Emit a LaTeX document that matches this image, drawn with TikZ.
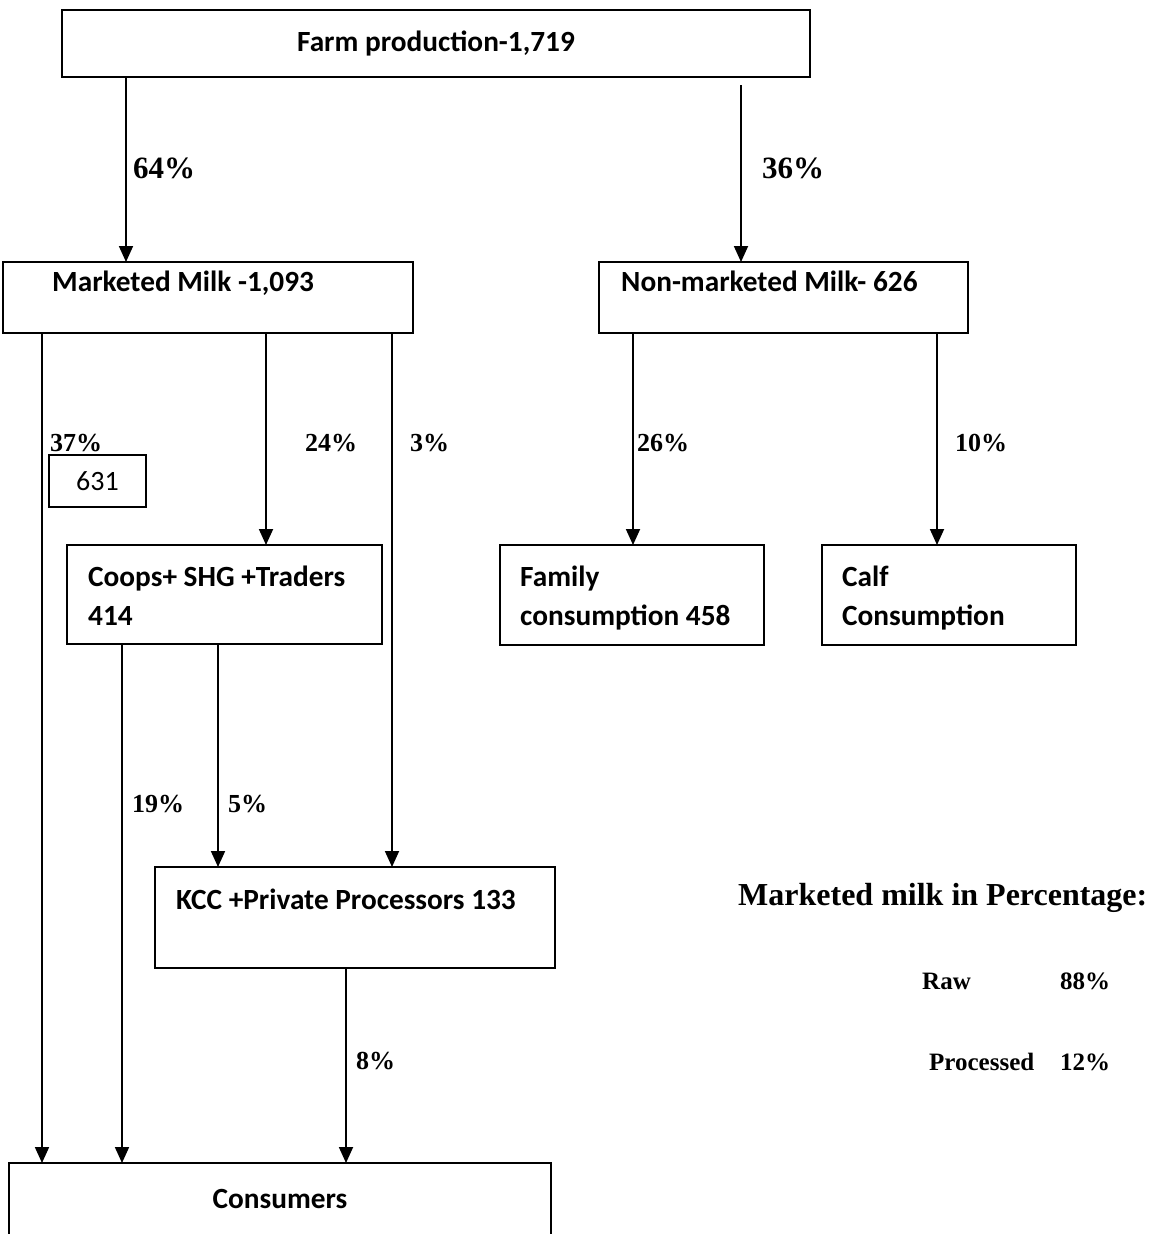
\documentclass[tikz,border=0pt]{standalone}
\usepackage{fontspec}
\usetikzlibrary{arrows.meta}
\newfontfamily\boxfont{Carlito}
\newfontfamily\labfont{Liberation Serif}
\begin{document}
\begin{tikzpicture}[x=1pt,y=-1pt,
  box/.style={draw,line width=1.8pt,inner sep=0pt,outer sep=0pt},
  bfont/.style={font=\boxfont\fontsize{29.3}{35}\selectfont\bfseries},
  btxt/.style={inner sep=0pt,anchor=base west,bfont},
  lab/.style={inner sep=0pt,anchor=base west,font=\labfont\fontsize{26}{30}\selectfont\bfseries},
  biglab/.style={inner sep=0pt,anchor=base west,font=\labfont\fontsize{31}{36}\selectfont\bfseries},
  leglab/.style={inner sep=0pt,anchor=base west,font=\labfont\fontsize{25}{30}\selectfont\bfseries},
  arr/.style={line width=1.8pt,-{Triangle[length=16pt,width=14pt]}}]
\useasboundingbox (0,0) rectangle (1151,1234);
% boxes
\node[box,minimum width=748pt,minimum height=67pt,bfont] (farm) at (436,43.5) {Farm production-1,719};
\node[box,minimum width=410pt,minimum height=71pt] (mkt) at (208,297.5) {};
\node[box,minimum width=369pt,minimum height=71pt] (nonmkt) at (783.5,297.5) {};
\node[box,minimum width=97pt,minimum height=52pt,font=\boxfont\fontsize{28}{34}\selectfont] (b631) at (97.5,481) {631};
\node[box,minimum width=315pt,minimum height=99pt] (coops) at (224.5,594.5) {};
\node[box,minimum width=264pt,minimum height=100pt] (family) at (632,595) {};
\node[box,minimum width=254pt,minimum height=100pt] (calf) at (949,595) {};
\node[box,minimum width=400pt,minimum height=101pt] (kcc) at (355,917.5) {};
\node[inner sep=0pt,outer sep=0pt,minimum width=542pt,minimum height=71pt,bfont] (cons) at (280,1198.5) {Consumers};
\draw[line width=1.8pt] (cons.south west) -- (cons.north west) -- (cons.north east) -- (cons.south east);
% box texts
\node[btxt] (tmkt) at (52,291) {Marketed Milk -1,093};
\node[btxt] (tnon) at (621,291) {Non-marketed Milk- 626};
\node[btxt] (tcoops1) at (88,586) {Coops+ SHG +Traders};
\node[btxt] (tcoops2) at (88,625) {414};
\node[btxt] (tfam1) at (520,586) {Family};
\node[btxt] (tfam2) at (520,625) {consumption 458};
\node[btxt] (tcalf1) at (842,586) {Calf};
\node[btxt] (tcalf2) at (842,625) {Consumption};
\node[btxt] (tkcc) at (176,909) {KCC +Private Processors 133};
% columns
\coordinate (c42) at (42,0);
\coordinate (c122) at (122,0);
\coordinate (c126) at (126,0);
\coordinate (c218) at (218,0);
\coordinate (c266) at (266,0);
\coordinate (c346) at (346,0);
\coordinate (c392) at (392,0);
\coordinate (c633) at (633,0);
\coordinate (c937) at (937,0);
\coordinate (nmtop) at (741,85);
% arrows
\draw[arr] (farm.south -| c126) -- (mkt.north -| c126);
\draw[arr] (nmtop) -- (nonmkt.north -| nmtop);
\draw[arr] (mkt.south -| c42) -- (cons.north -| c42);
\draw[arr] (mkt.south -| c266) -- (coops.north -| c266);
\draw[arr] (mkt.south -| c392) -- (kcc.north -| c392);
\draw[arr] (nonmkt.south -| c633) -- (family.north -| c633);
\draw[arr] (nonmkt.south -| c937) -- (calf.north -| c937);
\draw[arr] (coops.south -| c122) -- (cons.north -| c122);
\draw[arr] (coops.south -| c218) -- (kcc.north -| c218);
\draw[arr] (kcc.south -| c346) -- (cons.north -| c346);
% labels
\node[biglab] (l64) at (133,178) {64\%};
\node[biglab] (l36) at (762,178) {36\%};
\node[lab] (l37) at (50,451) {37\%};
\node[lab] (l24) at (305,451) {24\%};
\node[lab] (l3) at (410,451) {3\%};
\node[lab] (l26) at (637,451) {26\%};
\node[lab] (l10) at (955,451) {10\%};
\node[lab] (l19) at (132,812) {19\%};
\node[lab] (l5) at (228,812) {5\%};
\node[lab] (l8) at (356,1069) {8\%};
% legend
\node[inner sep=0pt,anchor=base west,font=\labfont\fontsize{32}{36}\selectfont\bfseries] (legtitle) at (738,905) {Marketed milk in Percentage:};
\node[leglab] (raw) at (922,989) {Raw};
\node[leglab] (raw88) at (1060,989) {88\%};
\node[leglab] (proc) at (929,1070) {Processed};
\node[leglab] (proc12) at (1060,1070) {12\%};
\end{tikzpicture}
\end{document}
